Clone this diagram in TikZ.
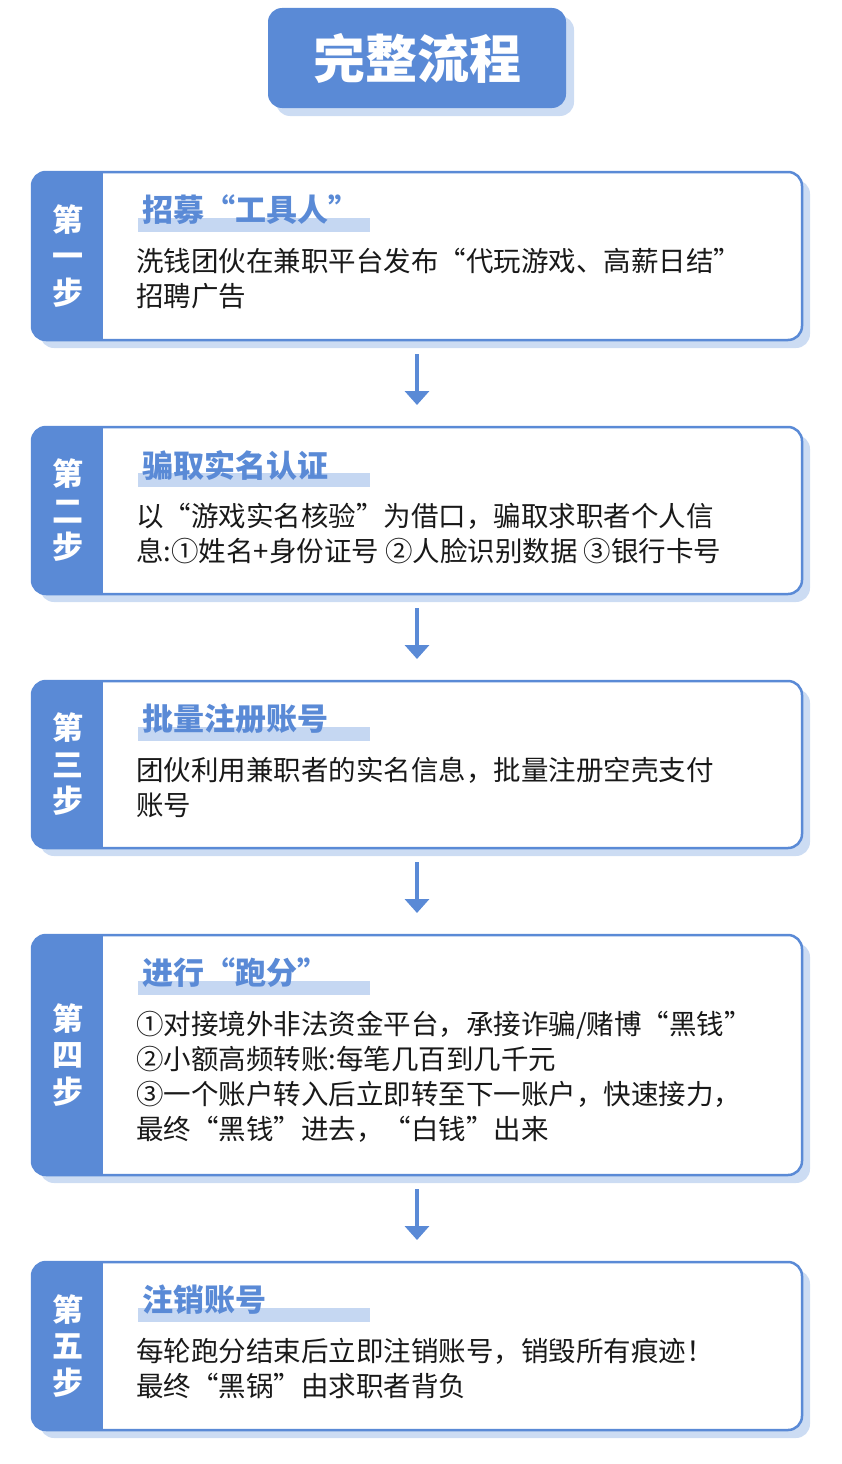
\documentclass[tikz,border=0pt]{standalone}
\usepackage{fontspec}
\setmainfont{Noto Sans CJK SC}
\usetikzlibrary{arrows.meta}
\begin{document}
\begin{tikzpicture}[x=1pt,y=-1pt,
  box/.style={draw=stepblue,line width=2.5pt,fill=white,rounded corners=14pt},
  head/.style={anchor=west,text=stepblue,font=\fontsize{31}{34}\selectfont\bfseries,inner sep=0pt},
  body/.style={anchor=north west,align=left,font=\fontsize{27.5}{35}\selectfont,inner sep=0pt,text=black!90},
  lab/.style={text=white,font=\fontsize{31}{36.5}\selectfont\bfseries,align=center,inner sep=0pt},
  arr/.style={draw=stepblue,line width=4pt,-{Triangle[length=14pt,width=24pt]}}]
\definecolor{stepblue}{HTML}{5A8AD6}
\definecolor{shadowblue}{HTML}{CCDCF3}
\definecolor{hl}{HTML}{C5D7F2}
\useasboundingbox (0,0) rectangle (842,1464);
% title
\fill[shadowblue,rounded corners=14pt] (276,16) rectangle (574,116);
\fill[stepblue,rounded corners=14pt] (268,8) rectangle (566,108);
\node[text=white,font=\fontsize{52}{56}\selectfont\bfseries] (title) at (417,58) {完整流程};
\newcommand{\mystep}[7]{%
  \fill[shadowblue,rounded corners=14pt] (40,#2+8) rectangle (810,#3+8);
  \draw[box] (32,#2) rectangle (802,#3);
  \begin{scope}
  \clip[rounded corners=14pt] (32,#2) rectangle (802,#3);
  \fill[stepblue] (30,#2-2) rectangle (103,#3+2);
  \end{scope}
  \node[lab] (#1lab) at (68,{(#2+#3)/2}) {#4};
  \fill[hl] (138,#2+46) rectangle (#7,#2+60);
  \node[head] (#1head) at (142,#2+38) {#5};
  \node[body] (#1body) at (136,#2+76) {#6};
  \coordinate (#1top) at (417,#2);
  \coordinate (#1bot) at (417,#3);
}
\mystep{s1}{172}{340}{第\\一\\步}{招募“工具人”}{洗钱团伙在兼职平台发布“代玩游戏、高薪日结”\\招聘广告}{370}
\mystep{s2}{427}{594}{第\\二\\步}{骗取实名认证}{以“游戏实名核验”为借口，骗取求职者个人信\\息:①姓名+身份证号 ②人脸识别数据 ③银行卡号}{370}
\mystep{s3}{681}{848}{第\\三\\步}{批量注册账号}{团伙利用兼职者的实名信息，批量注册空壳支付\\账号}{370}
\mystep{s4}{935}{1175}{第\\四\\步}{进行“跑分”}{①对接境外非法资金平台，承接诈骗/赌博“黑钱”\\②小额高频转账:每笔几百到几千元\\③一个账户转入后立即转至下一账户，快速接力，\\最终“黑钱”进去，“白钱”出来}{370}
\mystep{s5}{1262}{1430}{第\\五\\步}{注销账号}{每轮跑分结束后立即注销账号，销毁所有痕迹！\\最终“黑锅”由求职者背负}{370}
\draw[arr] ([yshift=-14]s1bot) -- ([yshift=22]s2top);
\draw[arr] ([yshift=-14]s2bot) -- ([yshift=22]s3top);
\draw[arr] ([yshift=-14]s3bot) -- ([yshift=22]s4top);
\draw[arr] ([yshift=-14]s4bot) -- ([yshift=22]s5top);
\end{tikzpicture}
\end{document}
